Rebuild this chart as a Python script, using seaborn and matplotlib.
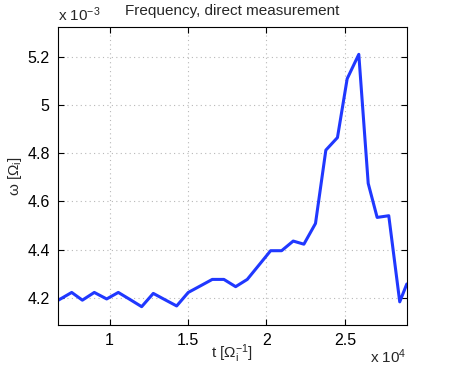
import numpy as np
import matplotlib
matplotlib.use('Agg')
import matplotlib.pyplot as plt
import seaborn as sns
from matplotlib.ticker import FuncFormatter

# values
t = [6740, 7590, 8270, 9030, 9820, 10560, 11300, 12050, 12790, 13530,
     14280, 15020, 15760, 16550, 17290, 18040, 18780, 19520, 20270, 20970,
     21710, 22390, 23130, 23790, 24530, 25150, 25890, 26490, 27060, 27800,
     28500, 28950]
omega = [4.190, 4.222, 4.190, 4.222, 4.195, 4.222, 4.193, 4.163, 4.218, 4.192,
         4.166, 4.222, 4.248, 4.276, 4.276, 4.246, 4.276, 4.335, 4.395, 4.395,
         4.435, 4.422, 4.508, 4.812, 4.864, 5.108, 5.209, 4.674, 4.533, 4.540,
         4.183, 4.257]
omega = [w * 1e-3 for w in omega]
x_ticks = [1e4, 1.5e4, 2e4, 2.5e4]
y_ticks = [4.2e-3, 4.4e-3, 4.6e-3, 4.8e-3, 5.0e-3, 5.2e-3]

sns.set_style('ticks')
plt.rcParams['font.family'] = ['Liberation Sans', 'DejaVu Sans']
plt.rcParams['mathtext.fontset'] = 'custom'
plt.rcParams['mathtext.rm'] = 'Liberation Sans'
plt.rcParams['mathtext.it'] = 'Liberation Sans:italic'

fig = plt.figure(figsize=(4.5, 3.66), dpi=100)
ax = fig.add_axes([0.129, 0.112, 0.775, 0.814])

sns.lineplot(x=t, y=omega, ax=ax, color='#2038ff', linewidth=2.2)

ax.set_xlim(6720, 28950)
ax.set_ylim(4.087e-3, 5.322e-3)
ax.set_xticks(x_ticks)
ax.set_yticks(y_ticks)
ax.xaxis.set_major_formatter(FuncFormatter(lambda v, p: f'{v / 1e4:g}'))
ax.yaxis.set_major_formatter(FuncFormatter(lambda v, p: f'{v * 1e3:g}'))

ax.grid(True, linestyle=(0, (1, 3)), color='#b8b8b8', linewidth=0.8)
ax.tick_params(direction='in', length=4, width=0.8, top=True, right=True,
               labelsize=11.5, colors='black', pad=6)
for s in ax.spines.values():
    s.set_visible(True)
    s.set_linewidth(0.8)
    s.set_color('black')

ax.set_title('Frequency, direct measurement', fontsize=11, pad=9)
ax.set_xlabel(r't [$\Omega_\mathrm{i}^{-1}$]', fontsize=11, labelpad=-4)
ax.set_ylabel(r'ω [$\Omega_\mathrm{i}$]', fontsize=11, labelpad=2)

ax.text(0.0, 1.012, r'x 10$^{-3}$', transform=ax.transAxes, fontsize=11,
        ha='left', va='bottom')
ax.text(1.0, -0.075, r'x 10$^{4}$', transform=ax.transAxes, fontsize=11,
        ha='right', va='top')

fig.savefig('out.png', dpi=100)
